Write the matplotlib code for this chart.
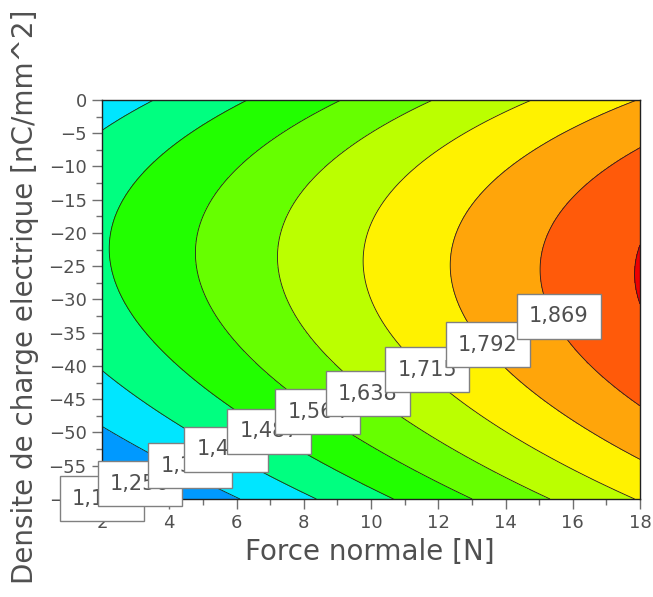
import numpy as np
import matplotlib
matplotlib.use('Agg')
import matplotlib.pyplot as plt
from matplotlib.ticker import MultipleLocator

# contour levels (labels shown on the chart)
niveaux = [1.179, 1.256, 1.333, 1.410, 1.487, 1.564, 1.638, 1.715, 1.792, 1.869, 1.946]
couleurs = ['#0033ff', '#0066ff', '#0099ff', '#00e6ff', '#00ff80', '#22ff00', '#66ff00',
            '#bbff00', '#fff200', '#ffa50a', '#ff5a0a', '#ee0000']

# response surface, in coded units
# u = (F - 10) / 8, v = (D + 30) / 30
# terms: 1, u, v, u2, uv, v2, u3, u2v, uv2, v3
coef = [1.71500, 0.24479, 0.07316, -0.00743, -0.02477,
        -0.18847, -0.00516, 0.00012, -0.00175, -0.01132]

force_min, force_max = 2, 18
densite_min, densite_max = -60, 0

# label positions along the diagonal
pos_labels = [(2.0, -60.0), (3.13, -57.7), (4.62, -55.0), (5.69, -52.5), (6.97, -49.8),
              (8.42, -46.9), (9.91, -44.2), (11.67, -40.6), (13.48, -36.8), (15.59, -32.5)]


def surface(F, D):
    u = (F - 10) / 8
    v = (D + 30) / 30
    t = [np.ones_like(u), u, v, u*u, u*v, v*v, u**3, u*u*v, u*v*v, v**3]
    return sum(c * ti for c, ti in zip(coef, t))


F, D = np.meshgrid(np.linspace(force_min, force_max, 400), np.linspace(densite_min, densite_max, 400))
Z = surface(F, D)

gris = '#505050'
plt.rcParams['font.family'] = ['DejaVu Sans']

fig = plt.figure(figsize=(6.53, 5.97), dpi=100)
ax = fig.add_axes([0.1562, 0.1642, 0.8239, 0.6683])
ax.contourf(F, D, Z, levels=[-10] + niveaux + [10], colors=couleurs)
ax.contour(F, D, Z, levels=niveaux, colors='#202020', linewidths=0.6)

for niv, (px, py) in zip(niveaux, pos_labels):
    ax.text(px, py, f'{niv:.3f}'.replace('.', ','), ha='center', va='center',
            fontsize=15, color=gris, clip_on=False, zorder=5,
            bbox=dict(boxstyle='square,pad=0.6', facecolor='white', edgecolor='#808080', linewidth=1))

ax.set_xlim(force_min, force_max)
ax.set_ylim(densite_min, densite_max)
ax.xaxis.set_major_locator(MultipleLocator(2))
ax.xaxis.set_minor_locator(MultipleLocator(1))
ax.yaxis.set_major_locator(MultipleLocator(5))
ax.yaxis.set_minor_locator(MultipleLocator(2.5))
ax.tick_params(which='major', direction='out', length=7, width=1, color='#707070',
               labelsize=13, labelcolor=gris, pad=4)
ax.tick_params(which='minor', direction='out', length=4, width=1, color='#707070')
for s in ax.spines.values():
    s.set_color('#202020')
    s.set_linewidth(1)

fig.text(0.5666, 0.0754, 'Force normale [N]', ha='center', va='center', fontsize=20, color=gris)
fig.text(0.0383, 0.5025, 'Densite de charge electrique [nC/mm^2]', ha='center', va='center',
         rotation=90, fontsize=20, color=gris)

fig.savefig('out.png')
